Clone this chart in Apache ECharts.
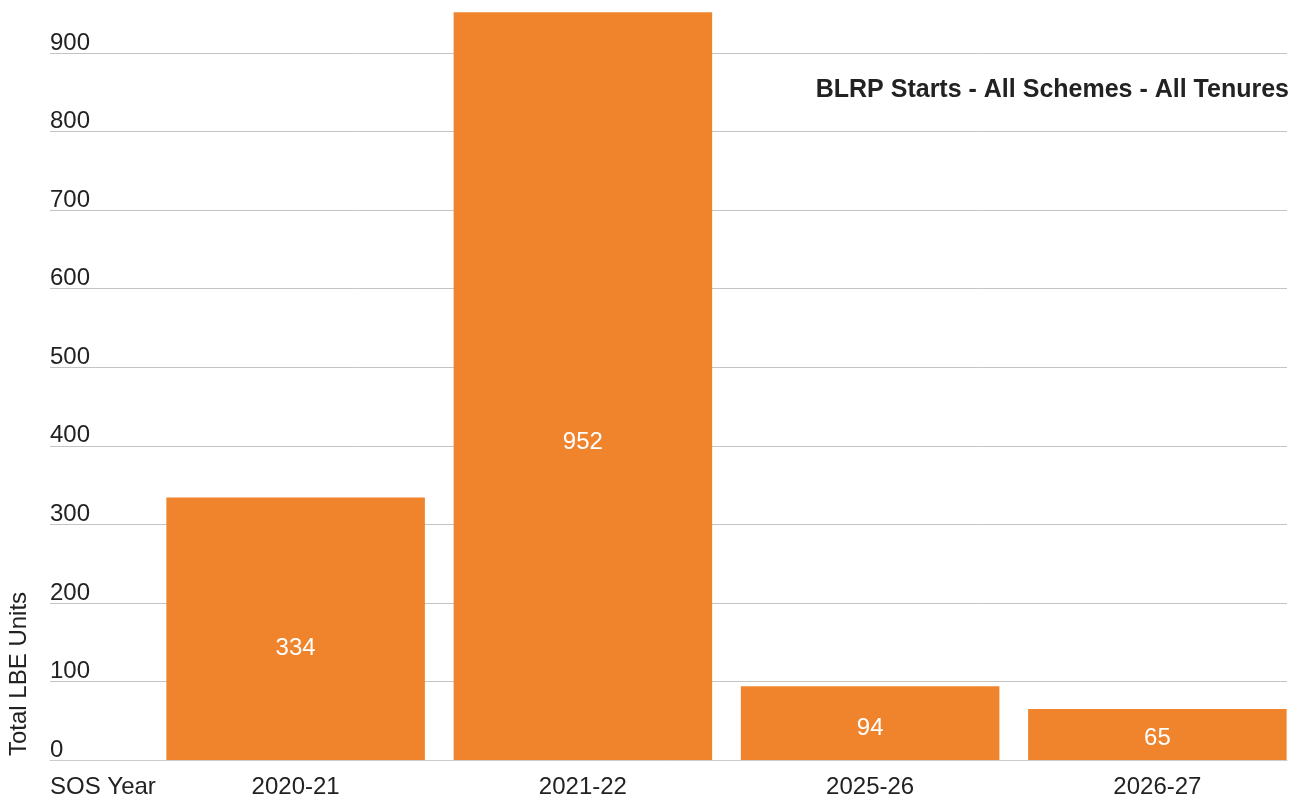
<!DOCTYPE html>
<html>
<head>
<meta charset="utf-8">
<script src="https://cdn.jsdelivr.net/npm/echarts@6/dist/echarts.min.js"></script>
<style>
html,body{margin:0;padding:0;background:#fff;}
#chart{width:1306px;height:805px;}
</style>
</head>
<body>
<div id="chart"></div>
<script>
const categories = ['2020-21', '2021-22', '2025-26', '2026-27'];
const values = [334, 952, 94, 65];
const titleText = 'BLRP Starts - All Schemes - All Tenures';
const xAxisName = 'SOS Year';
const yAxisName = 'Total LBE Units';

const FONT = '"Liberation Sans", Arial, sans-serif';
const TXT = '#222222';

const chart = echarts.init(document.getElementById('chart'), null, {renderer: 'canvas'});
chart.setOption({
  animation: false,
  backgroundColor: '#ffffff',
  textStyle: {fontFamily: FONT},
  title: {
    text: titleText,
    right: 17,
    top: 78,
    padding: 0,
    textStyle: {fontFamily: FONT, fontSize: 25, fontWeight: 'bold', color: TXT}
  },
  graphic: [{
    type: 'text',
    x: 19,
    y: 756,
    rotation: Math.PI / 2,
    style: {
      text: yAxisName,
      font: '24px ' + FONT,
      fill: TXT,
      textAlign: 'left',
      textVerticalAlign: 'middle'
    }
  }],
  grid: [
    {left: 50, right: 19, top: 53, bottom: 45, containLabel: false},
    {left: 152, right: 5, top: 53, bottom: 45, containLabel: false}
  ],
  xAxis: [
    {
      gridIndex: 0,
      type: 'category',
      data: categories,
      axisLine: {show: true, lineStyle: {color: '#cccccc', width: 1}},
      axisTick: {show: false},
      axisLabel: {show: false},
      splitLine: {show: false},
      name: xAxisName,
      nameLocation: 'start',
      nameGap: 0,
      nameTextStyle: {
        fontFamily: FONT, fontSize: 24, color: TXT,
        align: 'left', verticalAlign: 'top',
        padding: [15, 0, 0, 0]
      }
    },
    {
      gridIndex: 1,
      type: 'category',
      data: categories,
      axisLine: {show: false},
      axisTick: {show: false},
      axisLabel: {fontFamily: FONT, fontSize: 24, color: TXT, margin: 15},
      splitLine: {show: false}
    }
  ],
  yAxis: [
    {
      gridIndex: 0,
      type: 'value',
      min: 0,
      max: 900,
      interval: 100,
      axisLine: {show: false},
      axisTick: {show: false},
      axisLabel: {
        inside: true,
        margin: 0,
        fontFamily: FONT,
        fontSize: 24,
        lineHeight: 20,
        color: TXT,
        align: 'left',
        verticalAlign: 'bottom'
      },
      splitLine: {show: true, lineStyle: {color: '#c4c4c4', width: 1}}
    },
    {
      gridIndex: 1,
      type: 'value',
      min: 0,
      max: 900,
      interval: 100,
      show: false,
      splitLine: {show: false}
    }
  ],
  series: [{
    type: 'bar',
    xAxisIndex: 1,
    yAxisIndex: 1,
    data: values,
    barWidth: '90%',
    clip: false,
    itemStyle: {color: '#F0842D'},
    label: {
      show: true,
      position: ['50%', '57.5%'],
      align: 'center',
      verticalAlign: 'middle',
      fontFamily: FONT,
      fontSize: 24,
      color: '#ffffff'
    }
  }]
});
</script>
</body>
</html>
